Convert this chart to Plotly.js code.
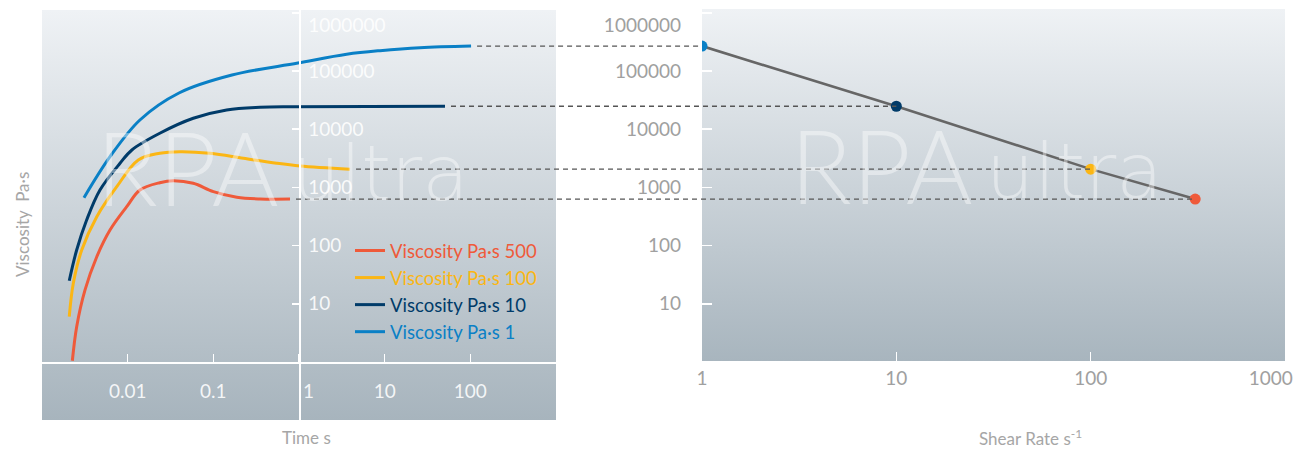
<!DOCTYPE html>
<html><head><meta charset="utf-8">
<script src="https://cdn.plot.ly/plotly-3.0.1.min.js"></script>
<style>html,body{margin:0;padding:0;background:#fff}#chart{width:1297px;height:450px}</style>
</head><body><div id="chart"></div>
<script>
// ---------- data ----------
const seriesNames = ['Viscosity Pa·s 500', 'Viscosity Pa·s 100', 'Viscosity Pa·s 10', 'Viscosity Pa·s 1'];

const time500 = [0.00226, 0.00254, 0.00318, 0.00436, 0.00622, 0.00975, 0.0139, 0.0237, 0.0341, 0.0583, 0.100, 0.188, 0.351, 0.785];
const visc500 = [1.05, 4.04, 17.3, 64.4, 185, 466, 902, 1205, 1303, 1175, 844, 676, 632, 630];

const time100 = [0.00208, 0.00232, 0.00291, 0.00436, 0.00746, 0.0133, 0.0237, 0.0408, 0.0915, 0.224, 0.550, 1.03, 3.94];
const visc100 = [6.0, 22.5, 84.0, 314, 1028, 2958, 3855, 4105, 3855, 3162, 2595, 2333, 2060];

const time10 = [0.00208, 0.00254, 0.00332, 0.00475, 0.00814, 0.0112, 0.0237, 0.0583, 0.143, 0.351, 0.851, 50.6];
const visc10 = [24.9, 84.0, 275, 902, 2595, 4395, 8510, 15400, 21380, 23780, 24360, 24800];

const time1 = [0.00309, 0.00622, 0.0139, 0.0397, 0.165, 0.97, 3.60, 8.82, 25.8, 102];
const visc1 = [665, 3370, 14400, 41900, 85300, 137200, 193600, 223500, 251400, 268000];

// right chart: viscosity vs shear rate (same order as series)
const shearRate = [345, 100, 10, 1];
const viscAtShear = [630, 2060, 24800, 268000];

const timeTicks = [0.01, 0.1, 1, 10, 100];
const timeTickText = ['0.01', '0.1', '\u2002\u20021', '10', '100'];
const viscTicks = [10, 100, 1000, 10000, 100000, 1000000];
const viscTickText = ['10', '100', '1000', '10000', '100000', '<br>1000000'];
const shearTicks = [1, 10, 100, 1000];
const shearTickText = ['1', '10', '100', '1000\u2003\u2003'];

// ---------- style / geometry ----------
const seriesColors = ['#ef5a3a', '#fbb614', '#003b69', '#0a80c6'];
const W = 1297, H = 450;
const L = {x0: 42, x1: 556, y0: 10, y1: 420};
const R = {x0: 702, x1: 1285, y0: 9, y1: 361};
const decadePx = 58.2, onePx = 362;
const FONT = 'Lato, "Open Sans", sans-serif';

const lYr = [(onePx - L.y1) / decadePx, (onePx - L.y0) / decadePx];
const rYr = [(onePx - R.y1) / decadePx, (onePx - R.y0) / decadePx];
const lXr = [-3, 3], rXr = [0, 3];
const lXd = [L.x0 / W, L.x1 / W], lYd = [1 - L.y1 / H, 1 - L.y0 / H];
const rXd = [R.x0 / W, R.x1 / W], rYd = [1 - R.y1 / H, 1 - R.y0 / H];

function lin(v, r, d) { return d[0] + (v - r[0]) / (r[1] - r[0]) * (d[1] - d[0]); }
const xAxisPos = lin(0, lYr, lYd);   // value 1 on left y
const yAxisPos = lin(0, lXr, lXd);   // value 1 on left x

const times = [time500, time100, time10, time1];
const viscs = [visc500, visc100, visc10, visc1];

const traces = seriesNames.map((n, i) => ({
  type: 'scatter', mode: 'lines', x: times[i], y: viscs[i], xaxis: 'x', yaxis: 'y',
  name: '<span style="color:' + seriesColors[i] + '">' + n + '</span>',
  line: {color: seriesColors[i], width: 3, shape: 'spline', smoothing: 1},
  hoverinfo: 'skip'
}));
traces.push({
  type: 'scatter', mode: 'lines+markers', x: shearRate, y: viscAtShear, xaxis: 'x2', yaxis: 'y2',
  showlegend: false, line: {color: '#666666', width: 2.6},
  marker: {color: seriesColors, size: 11}, hoverinfo: 'skip'
});

// dashed connectors derived from data
const gapPx = 6;
const shapes = seriesNames.map((n, i) => {
  const t = times[i][times[i].length - 1];
  const v = viscAtShear[i];
  const yP = lin(Math.log10(v), lYr, lYd);
  return {
    type: 'line', xref: 'paper', yref: 'paper',
    x0: lin(Math.log10(t), lXr, lXd) + gapPx / W,
    x1: lin(Math.log10(shearRate[i]), rXr, rXd),
    y0: yP, y1: yP,
    line: {color: '#555555', width: 1.3, dash: '5px,4px'}, layer: 'above'
  };
});

function grad(top, bottom) {
  const svg = "<svg xmlns='http://www.w3.org/2000/svg' width='100' height='100' viewBox='0 0 100 100' preserveAspectRatio='none'>" +
    "<defs><linearGradient id='g' x1='0' y1='0' x2='0' y2='1'><stop offset='0' stop-color='" + top + "'/>" +
    "<stop offset='1' stop-color='" + bottom + "'/></linearGradient></defs><rect width='100' height='100' fill='url(#g)'/></svg>";
  return 'data:image/svg+xml;charset=utf-8,' + encodeURIComponent(svg);
}
const images = [
  {source: grad('#eff2f5', '#a7b4bd'), xref: 'paper', yref: 'paper', x: lXd[0], y: lYd[1],
   sizex: lXd[1] - lXd[0], sizey: lYd[1] - lYd[0], xanchor: 'left', yanchor: 'top', sizing: 'stretch', layer: 'below'},
  {source: grad('#eff2f5', '#a8b5be'), xref: 'paper', yref: 'paper', x: rXd[0], y: rYd[1],
   sizex: rXd[1] - rXd[0], sizey: rYd[1] - rYd[0], xanchor: 'left', yanchor: 'top', sizing: 'stretch', layer: 'below'}
];

const wm = 'rgba(255,255,255,0.42)';
const WMF = '"DejaVu Sans", Lato, sans-serif';
const titleFont = {family: FONT, size: 17, color: '#a6a6a6'};
const annotations = [
  {text: 'Viscosity\u00a0\u00a0Pa·s', xref: 'paper', yref: 'paper', x: 22 / W, y: 1 - 225 / H, textangle: -90,
   xanchor: 'center', yanchor: 'middle', showarrow: false, font: titleFont},
  {text: 'Time s', xref: 'paper', yref: 'paper', x: 306 / W, y: 1 - 437 / H,
   xanchor: 'center', yanchor: 'middle', showarrow: false, font: titleFont},
  {text: 'Shear Rate s<sup>-1</sup>', xref: 'paper', yref: 'paper', x: 1030 / W, y: 1 - 437 / H,
   xanchor: 'center', yanchor: 'middle', showarrow: false, font: titleFont},
  {text: 'RPA', xref: 'paper', yref: 'paper', x: 94 / W, y: 1 - 230 / H, xanchor: 'left', yanchor: 'bottom',
   showarrow: false, font: {family: FONT, size: 102, color: wm, weight: 300}},
  {text: 'ultra', xref: 'paper', yref: 'paper', x: 290 / W, y: 1 - 220 / H, xanchor: 'left', yanchor: 'bottom',
   showarrow: false, font: {family: WMF, size: 76, color: wm, weight: 200}},
  {text: 'RPA', xref: 'paper', yref: 'paper', x: 788 / W, y: 1 - 228 / H, xanchor: 'left', yanchor: 'bottom',
   showarrow: false, font: {family: FONT, size: 102, color: wm, weight: 300}},
  {text: 'ultra', xref: 'paper', yref: 'paper', x: 984 / W, y: 1 - 218 / H, xanchor: 'left', yanchor: 'bottom',
   showarrow: false, font: {family: WMF, size: 76, color: wm, weight: 200}}
];

const layout = {
  width: W, height: H, margin: {l: 0, r: 0, t: 0, b: 0},
  paper_bgcolor: '#ffffff', plot_bgcolor: 'rgba(0,0,0,0)',
  font: {family: FONT},
  showlegend: true,
  legend: {x: 350 / W, y: 1 - 232 / H, xanchor: 'left', yanchor: 'top', bgcolor: 'rgba(0,0,0,0)',
           font: {family: FONT, size: 18.5}, itemwidth: 30, traceorder: 'normal'},
  xaxis: {type: 'log', range: lXr, domain: lXd, anchor: 'free', position: xAxisPos, side: 'bottom',
          showgrid: false, zeroline: false, showline: true, linecolor: '#ffffff', linewidth: 1.5,
          ticks: 'inside', ticklen: 8, tickwidth: 1.5, tickcolor: '#ffffff',
          tickvals: timeTicks, ticktext: timeTickText, ticklabelstandoff: 12,
          tickfont: {family: FONT, size: 19, color: 'rgba(255,255,255,0.88)'}},
  yaxis: {type: 'log', range: lYr, domain: lYd, anchor: 'free', position: yAxisPos, side: 'right',
          showgrid: false, zeroline: false, showline: true, linecolor: '#ffffff', linewidth: 1.5,
          ticks: 'inside', ticklen: 7, tickwidth: 1.5, tickcolor: '#ffffff',
          tickvals: viscTicks, ticktext: viscTickText, ticklabelstandoff: 4,
          tickfont: {family: FONT, size: 19, color: 'rgba(255,255,255,0.88)'}},
  xaxis2: {type: 'log', range: rXr, domain: rXd, anchor: 'y2', side: 'bottom',
           showgrid: false, zeroline: false, showline: false,
           ticks: 'inside', ticklen: 9, tickwidth: 1.5, tickcolor: '#ffffff',
           tickvals: shearTicks, ticktext: shearTickText, ticklabelstandoff: 4, ticklabeloverflow: 'allow',
           tickfont: {family: FONT, size: 19, color: '#a0a0a0'}},
  yaxis2: {type: 'log', range: rYr, domain: rYd, anchor: 'x2', side: 'left',
           showgrid: false, zeroline: false, showline: false,
           ticks: 'inside', ticklen: 10, tickwidth: 1.5, tickcolor: '#ffffff',
           tickvals: viscTicks, ticktext: viscTickText, ticklabelstandoff: 20,
           tickfont: {family: FONT, size: 19, color: '#a0a0a0'}},
  shapes: shapes, images: images, annotations: annotations
};

Plotly.newPlot('chart', traces, layout, {displayModeBar: false, staticPlot: true});
</script>
</body></html>
